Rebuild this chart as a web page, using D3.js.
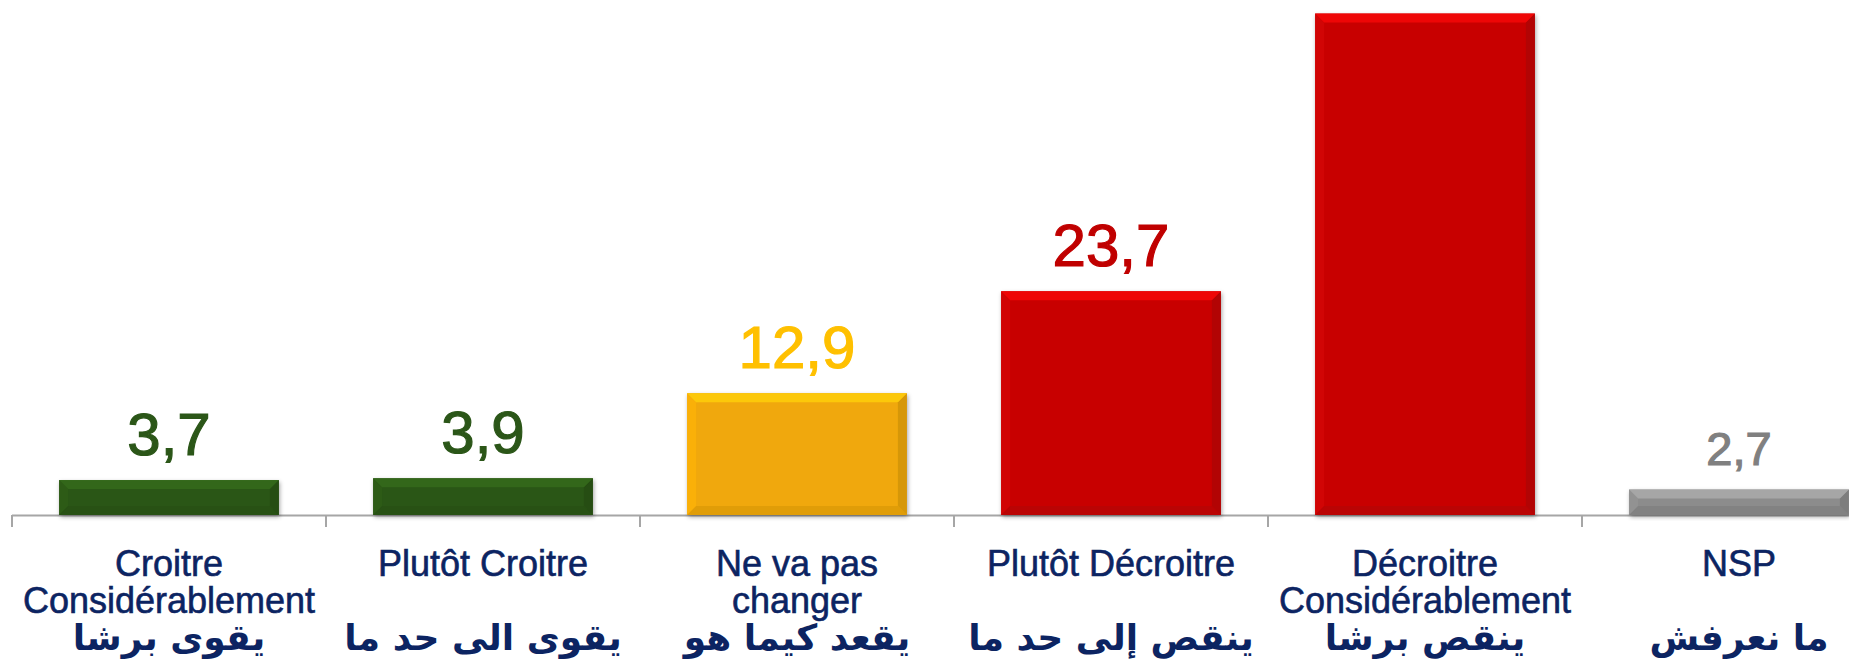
<!DOCTYPE html>
<html lang="fr">
  <head>
    <meta charset="UTF-8" />
    <title>Evolution</title>
    <script src="https://d3js.org/d3.v7.min.js"></script>
    <style>
      body {
        margin: 0;
        padding: 0;
        background: #fff;
        overflow: hidden;
      }
      .fr-label {
        font-family: "Liberation Sans", Arial, sans-serif;
        font-size: 36px;
        fill: #0c2462;
        stroke: #0c2462;
        stroke-width: 0.6;
        text-anchor: middle;
      }
      .ar-label {
        font-family: "DejaVu Sans", sans-serif;
        font-weight: bold;
        font-size: 36px;
        fill: #0c2462;
        text-anchor: middle;
      }
      .value {
        font-family: "Liberation Sans", Arial, sans-serif;
        text-anchor: middle;
        stroke-width: 1.2;
      }
    </style>
  </head>
  <body>
    <div id="chart"></div>
    <script>
      const categories = [
        ["Croitre", "Considérablement"],
        ["Plutôt Croitre"],
        ["Ne va pas", "changer"],
        ["Plutôt Décroitre"],
        ["Décroitre", "Considérablement"],
        ["NSP"],
      ];
      const arabicLabels = [
        "يقوى برشا",
        "يقوى الى حد ما",
        "يقعد كيما هو",
        "ينقص إلى حد ما",
        "ينقص برشا",
        "ما نعرفش",
      ];
      const values = [3.7, 3.9, 12.9, 23.7, 53.1, 2.7];
      const valueLabels = ["3,7", "3,9", "12,9", "23,7", "", "2,7"];

      const barColors = ["#2c5716", "#2c5716", "#f0a808", "#c80606", "#c80606", "#8c8c8c"];
      const labelColors = ["#2b5618", "#2b5618", "#ffc000", "#c00000", "#c00000", "#808080"];
      const labelSizes = [60, 60, 60, 60, 60, 47];

      const width = 1849;
      const height = 665;
      const baseline = 515;

      const svg = d3
        .select("#chart")
        .append("svg")
        .attr("width", width)
        .attr("height", height);

      const defs = svg.append("defs");
      const shadow = defs.append("filter").attr("id", "shadow")
        .attr("x", "-10%").attr("y", "-10%").attr("width", "120%").attr("height", "130%");
      shadow.append("feDropShadow")
        .attr("dx", 1).attr("dy", 2).attr("stdDeviation", 2)
        .attr("flood-color", "#000").attr("flood-opacity", 0.35);

      const ids = categories.map((d, i) => i);

      const x = d3
        .scaleBand()
        .domain(ids)
        .range([12, 12 + 6 * 314])
        .paddingInner(0.3)
        .paddingOuter(0.15);

      const y = d3.scaleLinear().domain([0, 54]).range([baseline, 5]);

      // axis line + ticks between categories
      const axis = svg.append("g");
      axis.append("line")
        .attr("x1", x.range()[0]).attr("x2", x.range()[1])
        .attr("y1", baseline + 0.5).attr("y2", baseline + 0.5)
        .attr("stroke", "#a6a6a6").attr("stroke-width", 2);
      axis.selectAll("line.tick")
        .data(d3.range(ids.length + 1))
        .enter()
        .append("line")
        .attr("class", "tick")
        .attr("x1", (i) => x.range()[0] + i * x.step())
        .attr("x2", (i) => x.range()[0] + i * x.step())
        .attr("y1", baseline)
        .attr("y2", baseline + 12)
        .attr("stroke", "#a6a6a6").attr("stroke-width", 2);

      // bars with bevel
      const b = 9;
      const bars = svg.selectAll("g.bar")
        .data(ids)
        .enter()
        .append("g")
        .attr("class", "bar");

      bars.append("rect")
        .attr("x", (i) => x(i))
        .attr("y", (i) => y(values[i]))
        .attr("width", x.bandwidth())
        .attr("height", (i) => y(0) - y(values[i]))
        .attr("fill", (i) => barColors[i])
        .attr("filter", "url(#shadow)");

      const bevel = (i, side) => {
        const x0 = x(i), x1 = x(i) + x.bandwidth();
        const y0 = y(values[i]), y1 = y(0);
        const p = {
          top: [[x0, y0], [x1, y0], [x1 - b, y0 + b], [x0 + b, y0 + b]],
          left: [[x0, y0], [x0 + b, y0 + b], [x0 + b, y1 - b], [x0, y1]],
          right: [[x1, y0], [x1, y1], [x1 - b, y1 - b], [x1 - b, y0 + b]],
          bottom: [[x0, y1], [x0 + b, y1 - b], [x1 - b, y1 - b], [x1, y1]],
        }[side];
        return "M" + p.join("L") + "Z";
      };

      const bevelStyle = {
        top: (c) => d3.color(c).brighter(0.6),
        left: (c) => d3.color(c).brighter(0.15),
        right: (c) => d3.color(c).darker(0.4),
        bottom: (c) => d3.color(c).darker(0.25),
      };

      ["left", "right", "bottom", "top"].forEach((side) => {
        bars.append("path")
          .attr("d", (i) => bevel(i, side))
          .attr("fill", (i) => bevelStyle[side](barColors[i]))
          .attr("opacity", 0.8);
      });

      // value labels
      svg.selectAll("text.value")
        .data(ids)
        .enter()
        .append("text")
        .attr("class", "value")
        .attr("x", (i) => x(i) + x.bandwidth() / 2)
        .attr("y", (i) => y(values[i]) - 25)
        .style("font-size", (i) => labelSizes[i] + "px")
        .attr("fill", (i) => labelColors[i])
        .attr("stroke", (i) => labelColors[i])
        .text((i) => valueLabels[i]);

      // category labels
      const cat = svg.selectAll("g.cat")
        .data(ids)
        .enter()
        .append("g")
        .attr("class", "cat")
        .attr("transform", (i) => `translate(${x.range()[0] + (i + 0.5) * x.step()},0)`);

      cat.append("text")
        .attr("class", "fr-label")
        .selectAll("tspan")
        .data((i) => categories[i])
        .enter()
        .append("tspan")
        .attr("x", 0)
        .attr("y", (d, j) => 576 + j * 37)
        .text((d) => d);

      cat.append("text")
        .attr("class", "ar-label")
        .attr("direction", "rtl")
        .attr("x", 0)
        .attr("y", 650)
        .text((i) => arabicLabels[i]);
    </script>
  </body>
</html>
